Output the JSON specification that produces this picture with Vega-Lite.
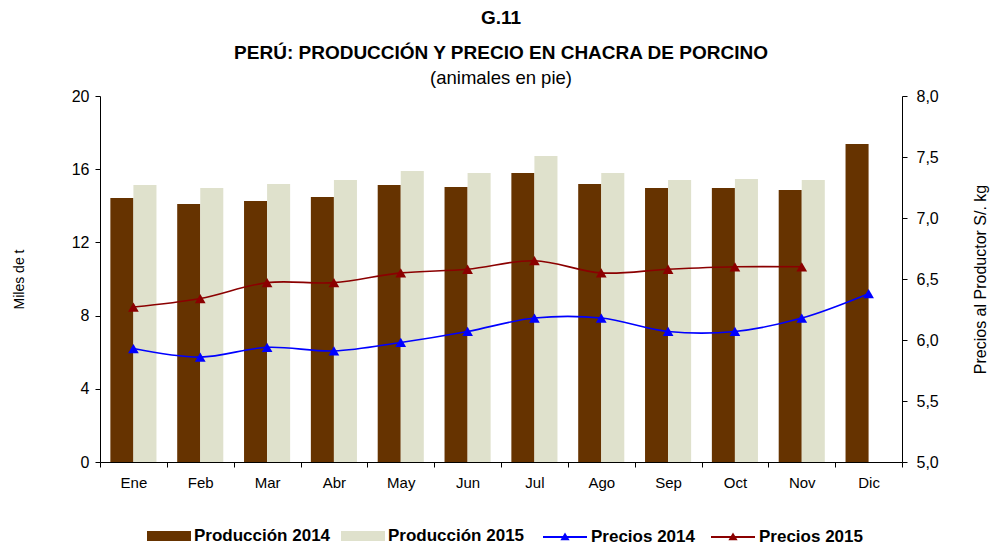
{
  "$schema": "https://vega.github.io/schema/vega-lite/v6.json",
  "width": 802,
  "height": 366,
  "autosize": {"type": "none"},
  "padding": {"left": 100, "top": 96, "right": 89, "bottom": 84},
  "background": "white",
  "title": {
    "text": ["G.11", "PERÚ: PRODUCCIÓN Y PRECIO EN CHACRA DE PORCINO"],
    "subtitle": "(animales en pie)",
    "anchor": "middle",
    "frame": "group",
    "font": "Liberation Sans",
    "fontSize": 19,
    "fontWeight": "bold",
    "lineHeight": 35,
    "color": "black",
    "subtitleFont": "Liberation Sans",
    "subtitleFontSize": 18.5,
    "subtitleColor": "black",
    "subtitlePadding": 6,
    "offset": 1
  },
  "data": {
    "values": [
      {"mes": "Ene", "serie": "Producción 2014", "tipo": "prod", "valor": 14.43},
      {"mes": "Feb", "serie": "Producción 2014", "tipo": "prod", "valor": 14.1},
      {"mes": "Mar", "serie": "Producción 2014", "tipo": "prod", "valor": 14.26},
      {"mes": "Abr", "serie": "Producción 2014", "tipo": "prod", "valor": 14.48},
      {"mes": "May", "serie": "Producción 2014", "tipo": "prod", "valor": 15.14},
      {"mes": "Jun", "serie": "Producción 2014", "tipo": "prod", "valor": 15.03},
      {"mes": "Jul", "serie": "Producción 2014", "tipo": "prod", "valor": 15.79},
      {"mes": "Ago", "serie": "Producción 2014", "tipo": "prod", "valor": 15.19},
      {"mes": "Sep", "serie": "Producción 2014", "tipo": "prod", "valor": 14.97},
      {"mes": "Oct", "serie": "Producción 2014", "tipo": "prod", "valor": 14.97},
      {"mes": "Nov", "serie": "Producción 2014", "tipo": "prod", "valor": 14.86},
      {"mes": "Dic", "serie": "Producción 2014", "tipo": "prod", "valor": 17.38},
      {"mes": "Ene", "serie": "Producción 2015", "tipo": "prod", "valor": 15.14},
      {"mes": "Feb", "serie": "Producción 2015", "tipo": "prod", "valor": 14.97},
      {"mes": "Mar", "serie": "Producción 2015", "tipo": "prod", "valor": 15.19},
      {"mes": "Abr", "serie": "Producción 2015", "tipo": "prod", "valor": 15.41},
      {"mes": "May", "serie": "Producción 2015", "tipo": "prod", "valor": 15.9},
      {"mes": "Jun", "serie": "Producción 2015", "tipo": "prod", "valor": 15.79},
      {"mes": "Jul", "serie": "Producción 2015", "tipo": "prod", "valor": 16.72},
      {"mes": "Ago", "serie": "Producción 2015", "tipo": "prod", "valor": 15.79},
      {"mes": "Sep", "serie": "Producción 2015", "tipo": "prod", "valor": 15.41},
      {"mes": "Oct", "serie": "Producción 2015", "tipo": "prod", "valor": 15.46},
      {"mes": "Nov", "serie": "Producción 2015", "tipo": "prod", "valor": 15.41},
      {"mes": "Ene", "serie": "Precios 2014", "tipo": "precio", "valor": 5.93},
      {"mes": "Feb", "serie": "Precios 2014", "tipo": "precio", "valor": 5.86},
      {"mes": "Mar", "serie": "Precios 2014", "tipo": "precio", "valor": 5.94},
      {"mes": "Abr", "serie": "Precios 2014", "tipo": "precio", "valor": 5.91},
      {"mes": "May", "serie": "Precios 2014", "tipo": "precio", "valor": 5.98},
      {"mes": "Jun", "serie": "Precios 2014", "tipo": "precio", "valor": 6.07},
      {"mes": "Jul", "serie": "Precios 2014", "tipo": "precio", "valor": 6.18},
      {"mes": "Ago", "serie": "Precios 2014", "tipo": "precio", "valor": 6.18},
      {"mes": "Sep", "serie": "Precios 2014", "tipo": "precio", "valor": 6.07},
      {"mes": "Oct", "serie": "Precios 2014", "tipo": "precio", "valor": 6.07},
      {"mes": "Nov", "serie": "Precios 2014", "tipo": "precio", "valor": 6.18},
      {"mes": "Dic", "serie": "Precios 2014", "tipo": "precio", "valor": 6.38},
      {"mes": "Ene", "serie": "Precios 2015", "tipo": "precio", "valor": 6.27},
      {"mes": "Feb", "serie": "Precios 2015", "tipo": "precio", "valor": 6.34},
      {"mes": "Mar", "serie": "Precios 2015", "tipo": "precio", "valor": 6.47},
      {"mes": "Abr", "serie": "Precios 2015", "tipo": "precio", "valor": 6.47},
      {"mes": "May", "serie": "Precios 2015", "tipo": "precio", "valor": 6.55},
      {"mes": "Jun", "serie": "Precios 2015", "tipo": "precio", "valor": 6.58},
      {"mes": "Jul", "serie": "Precios 2015", "tipo": "precio", "valor": 6.65},
      {"mes": "Ago", "serie": "Precios 2015", "tipo": "precio", "valor": 6.55},
      {"mes": "Sep", "serie": "Precios 2015", "tipo": "precio", "valor": 6.58},
      {"mes": "Oct", "serie": "Precios 2015", "tipo": "precio", "valor": 6.6},
      {"mes": "Nov", "serie": "Precios 2015", "tipo": "precio", "valor": 6.6}
    ]
  },
  "encoding": {
    "x": {
      "field": "mes",
      "type": "nominal",
      "sort": ["Ene", "Feb", "Mar", "Abr", "May", "Jun", "Jul", "Ago", "Sep", "Oct", "Nov", "Dic"],
      "scale": {"paddingInner": 0, "paddingOuter": 0},
      "axis": {
        "title": null,
        "labelAngle": 0,
        "tickBand": "extent",
        "labelFontSize": 15,
        "labelPadding": 8,
        "tickSize": 5
      }
    }
  },
  "layer": [
    {
      "transform": [{"filter": "datum.tipo == 'prod'"}],
      "mark": {"type": "bar"},
      "encoding": {
        "xOffset": {
          "field": "serie",
          "type": "nominal",
          "scale": {"domain": ["Producción 2014", "Producción 2015"], "paddingInner": 0, "paddingOuter": 0.45}
        },
        "y": {
          "field": "valor",
          "type": "quantitative",
          "scale": {"domain": [0, 20], "nice": false},
          "axis": {
            "title": "Miles de t",
            "titleFont": "Liberation Sans",
            "titleFontWeight": "normal",
            "titleFontSize": 14,
            "titlePadding": 45,
            "values": [0, 4, 8, 12, 16, 20],
            "labelFontSize": 16,
            "labelPadding": 6,
            "tickSize": 5,
            "grid": false
          }
        },
        "fill": {
          "field": "serie",
          "type": "nominal",
          "scale": {"domain": ["Producción 2014", "Producción 2015"], "range": ["#663300", "#DFE1CC"]},
          "legend": {
            "title": null,
            "orient": "none",
            "legendX": 47,
            "legendY": 418,
            "direction": "horizontal",
            "labelFont": "Liberation Sans",
            "labelFontSize": 17,
            "labelFontWeight": "bold",
            "labelColor": "black",
            "labelOffset": 3,
            "columnPadding": 10,
            "symbolSize": 1936,
            "symbolType": "M-1,-0.23H1V0.23H-1Z",
            "symbolStrokeWidth": 0,
            "symbolOpacity": 1
          }
        }
      }
    },
    {
      "transform": [{"filter": "datum.tipo == 'precio'"}],
      "layer": [
        {
          "mark": {"type": "line", "interpolate": "catmull-rom", "strokeWidth": 1.6},
          "encoding": {
            "y": {
              "field": "valor",
              "type": "quantitative",
              "scale": {"domain": [5, 8], "nice": false},
              "axis": {
                "orient": "right",
                "title": "Precios al Productor S/. kg",
                "titleAngle": 270,
                "titleFont": "Liberation Sans",
                "titleFontWeight": "normal",
                "titleFontSize": 16,
                "titlePadding": 50,
                "values": [5, 5.5, 6, 6.5, 7, 7.5, 8],
                "labelExpr": "replace(format(datum.value, '.1f'), '.', ',')",
                "labelFontSize": 16,
                "labelPadding": 9,
                "tickSize": 5,
                "grid": false
              }
            },
            "stroke": {
              "field": "serie",
              "type": "nominal",
              "scale": {"domain": ["Precios 2014", "Precios 2015"], "range": ["#0000FF", "#8B0000"]},
              "legend": {
                "title": null,
                "orient": "none",
                "legendX": 442,
                "legendY": 418,
                "direction": "horizontal",
                "labelFont": "Liberation Sans",
                "labelFontSize": 17,
                "labelFontWeight": "bold",
                "labelColor": "black",
                "labelOffset": 3,
                "columnPadding": 12,
                "symbolSize": 1936,
                "symbolType": "M-1,0H1M-0.13,0.1L0,-0.12L0.13,0.1Z",
                "symbolStrokeWidth": 2,
                "symbolOpacity": 1
              }
            }
          }
        },
        {
          "mark": {"type": "point", "shape": "triangle-up", "filled": true, "size": 115, "opacity": 1},
          "encoding": {
            "y": {"field": "valor", "type": "quantitative", "scale": {"domain": [5, 8], "nice": false}},
            "color": {
              "field": "serie",
              "type": "nominal",
              "scale": {"domain": ["Precios 2014", "Precios 2015"], "range": ["#0000FF", "#8B0000"]},
              "legend": null
            }
          }
        }
      ]
    }
  ],
  "resolve": {"scale": {"y": "independent"}, "axis": {"y": "independent"}},
  "config": {
    "font": "Liberation Sans",
    "view": {"stroke": null},
    "axis": {
      "domainColor": "black",
      "tickColor": "black",
      "labelColor": "black",
      "titleColor": "black",
      "labelFont": "Liberation Sans",
      "domainWidth": 1,
      "tickWidth": 1
    }
  }
}
